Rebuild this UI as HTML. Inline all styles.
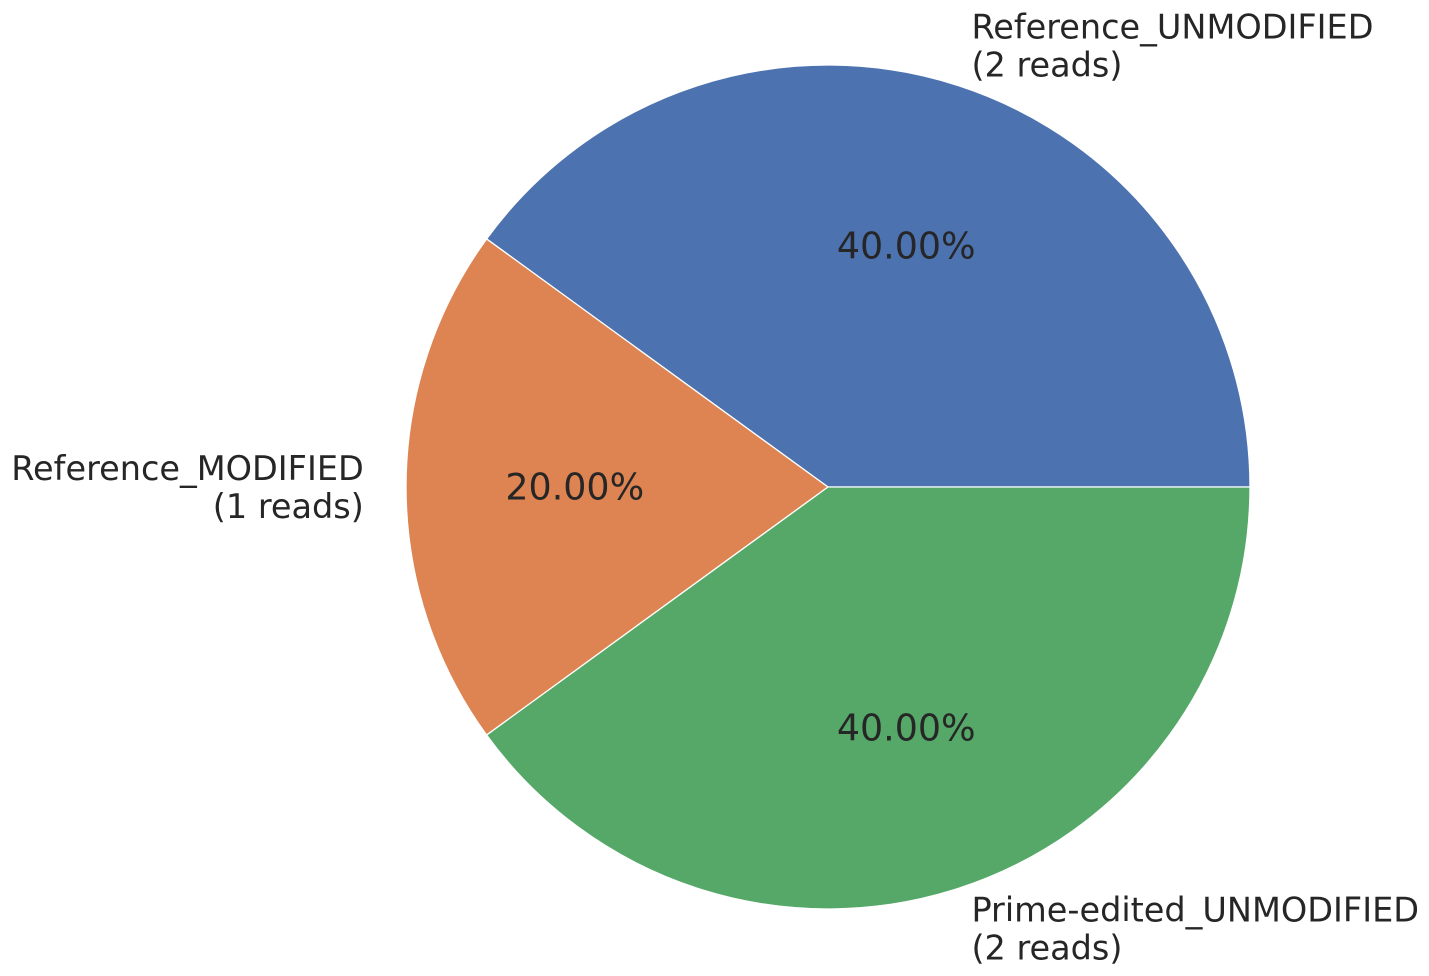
<!DOCTYPE html>
<html><head><meta charset="utf-8"><style>
html,body{margin:0;padding:0;background:#fff;}
svg{display:block;font-family:"DejaVu Sans","Liberation Sans",sans-serif;}
</style></head><body>
<svg id="chart" width="1429" height="976" viewBox="0 0 1429 976" xmlns="http://www.w3.org/2000/svg"></svg>
<script>
const categories = ["Reference_UNMODIFIED", "Reference_MODIFIED", "Prime-edited_UNMODIFIED"];
const readCounts = [2, 1, 2];
const colors = ["#4c72b0", "#dd8452", "#55a868"];

const svg = document.getElementById('chart');
const NS = "http://www.w3.org/2000/svg";
const cx = 828, cy = 487, R = 422;
const total = readCounts.reduce((a,b)=>a+b,0);
function pt(angDeg, r){ const a = angDeg*Math.PI/180; return [cx + r*Math.cos(a), cy - r*Math.sin(a)]; }
let start = 0;
readCounts.forEach((v,i)=>{
  const sweep = v/total*360;
  const end = start + sweep;
  const [x1,y1] = pt(start,R), [x2,y2] = pt(end,R);
  const p = document.createElementNS(NS,'path');
  p.setAttribute('d', `M${cx},${cy} L${x1},${y1} A${R},${R} 0 ${sweep>180?1:0} 0 ${x2},${y2} Z`);
  p.setAttribute('fill', colors[i]);
  p.setAttribute('stroke', '#fff');
  p.setAttribute('stroke-width', '1.3');
  
  
  svg.appendChild(p);
  const mid = start + sweep/2;
  const [px,py] = pt(mid, R*0.6);
  const t = document.createElementNS(NS,'text');
  t.setAttribute('x', px); t.setAttribute('y', py);
  t.setAttribute('text-anchor','middle'); t.setAttribute('dominant-baseline','central');
  t.setAttribute('font-size','36.4'); t.setAttribute('fill','#262626');
  t.textContent = (v/total*100).toFixed(2) + '%';
  
  
  svg.appendChild(t);
  const [lx,ly] = pt(mid, R*1.1);
  const anchor = Math.cos(mid*Math.PI/180) >= 0 ? 'start' : 'end';
  const g = document.createElementNS(NS,'text');
  g.setAttribute('x', lx); g.setAttribute('y', ly);
  g.setAttribute('text-anchor', anchor);
  g.setAttribute('font-size','33.5'); g.setAttribute('fill','#262626');
  
  
  const lines = [categories[i], '(' + v + ' reads)'];
  lines.forEach((s,j)=>{
    const ts = document.createElementNS(NS,'tspan');
    ts.setAttribute('x', lx);
    ts.setAttribute('y', ly - 19 + 38*j + 12);
    ts.textContent = s;
    g.appendChild(ts);
  });
  svg.appendChild(g);
  start = end;
});
</script>
</body></html>
